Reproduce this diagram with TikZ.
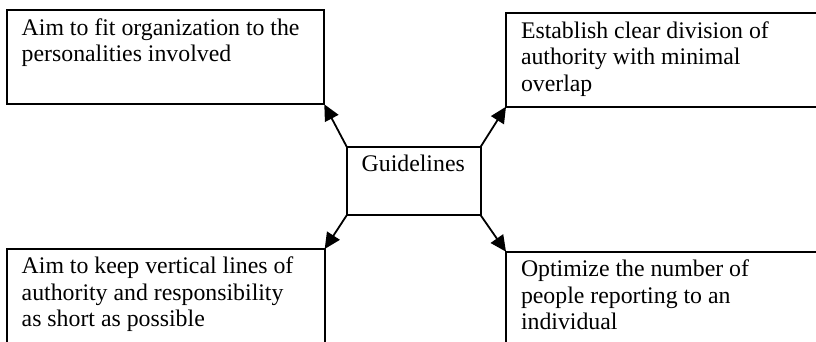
\documentclass[tikz,border=0pt]{standalone}
\usepackage{fontspec}
\setmainfont{Liberation Serif}
\usetikzlibrary{arrows.meta}
\begin{document}
\begin{tikzpicture}[x=1pt,y=-1pt,
  box/.style={draw=black, line width=2pt, inner sep=0pt, outer sep=0pt,
              rectangle, anchor=north west},
  txt/.style={anchor=north west, inner sep=0pt, outer sep=0pt, align=left,
              font=\fontsize{23.8}{26.5}\selectfont, xshift=15pt, yshift=-8.2pt},
  link/.style={line width=1.8pt, -{Triangle[length=16pt,width=15pt]}}]
  \useasboundingbox (0,0) rectangle (816,342);
  \clip (0,0) rectangle (816,342);

  % outer boxes
  \node[box, minimum width=317.6pt, minimum height=94pt]  (b1) at (6.7,10.3) {};
  \node[box, minimum width=330pt,   minimum height=93.4pt] (b2) at (506,13.3) {};
  \node[box, minimum width=318pt,   minimum height=120pt]  (b3) at (6.7,249) {};
  \node[box, minimum width=330pt,   minimum height=120pt]  (b4) at (506,251.7) {};
  % centre box
  \node[box, minimum width=134pt,   minimum height=68.6pt] (g)  at (346.7,146.7) {};

  % texts
  \node[txt] (t1) at (b1.north west) {Aim to fit organization to the\\personalities involved};
  \node[txt] (t2) at (b2.north west) {Establish clear division of\\authority with minimal\\overlap};
  \node[txt] (t3) at (b3.north west) {Aim to keep vertical lines of\\authority and responsibility\\as short as possible};
  \node[txt] (t4) at (b4.north west) {Optimize the number of\\people reporting to an\\individual};
  \node[txt] (tg) at (g.north west) {Guidelines};

  % connectors
  \draw[link] (g.north west) -- (b1.south east);
  \draw[link] (g.north east) -- (b2.south west);
  \draw[link] (g.south west) -- (b3.north east);
  \draw[link] (g.south east) -- (b4.north west);
\end{tikzpicture}
\end{document}
